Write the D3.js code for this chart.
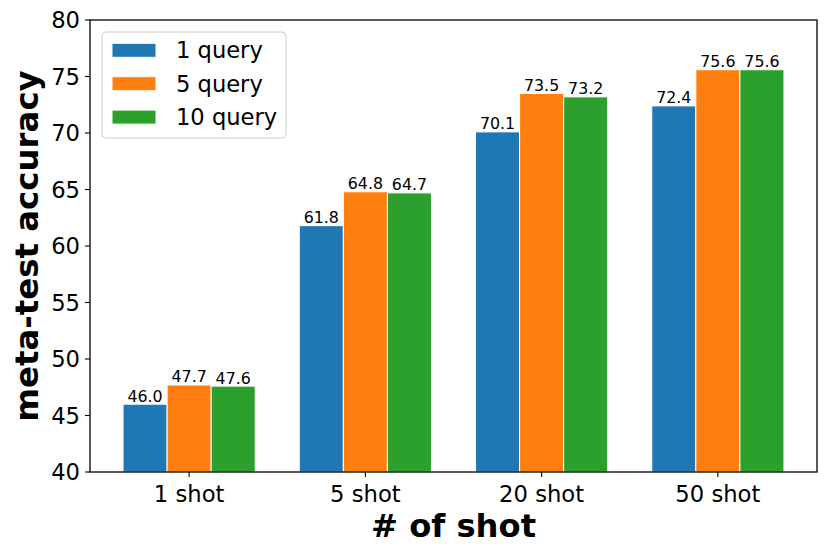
<!DOCTYPE html>
<html>
<head>
<meta charset="utf-8">
<script src="https://cdn.jsdelivr.net/npm/d3@7"></script>
<style>
  body { margin: 0; background: #fff; }
  svg { font-family: "DejaVu Sans", sans-serif; }
</style>
</head>
<body>
<div id="chart"></div>
<script>
const shots = ["1 shot", "5 shot", "20 shot", "50 shot"];
const seriesNames = ["1 query", "5 query", "10 query"];
const query1 = [46.0, 61.8, 70.1, 72.4];
const query5 = [47.7, 64.8, 73.5, 75.6];
const query10 = [47.6, 64.7, 73.2, 75.6];
const yTicks = [40, 45, 50, 55, 60, 65, 70, 75, 80];
const colors = ["#1f77b4", "#ff7f0e", "#2ca02c"];

const series = [query1, query5, query10];

const width = 830, height = 556;
const margin = {top: 20, right: 13, bottom: 84, left: 90};
const innerW = width - margin.left - margin.right;
const innerH = height - margin.top - margin.bottom;

const svg = d3.select("#chart").append("svg")
    .attr("width", width)
    .attr("height", height);

const g = svg.append("g")
    .attr("transform", `translate(${margin.left},${margin.top})`);

// matplotlib-like: groups at 0..3, bar width 0.25, margins 5%
const barW = 0.25;
const x = d3.scaleLinear().domain([-0.5625, 3.5625]).range([0, innerW]);
const y = d3.scaleLinear().domain([40, 80]).range([innerH, 0]);

series.forEach((vals, si) => {
    const off = (si - 1) * barW;
    g.selectAll(null)
        .data(vals)
        .join("rect")
        .attr("x", (d, i) => x(i + off - barW / 2))
        .attr("y", d => y(d))
        .attr("width", x(barW) - x(0))
        .attr("height", d => y(40) - y(d))
        .attr("fill", colors[si])
        .attr("stroke", "#fff")
        .attr("stroke-width", 1);

    g.selectAll(null)
        .data(vals)
        .join("text")
        .attr("x", (d, i) => x(i + off))
        .attr("y", d => y(d) - 2.5)
        .attr("text-anchor", "middle")
        .attr("font-size", 15.8)
        .attr("fill", "#000")
        .text(d => d.toFixed(1));
});

// frame
g.append("rect")
    .attr("width", innerW)
    .attr("height", innerH)
    .attr("fill", "none")
    .attr("stroke", "#000")
    .attr("stroke-width", 1.3);

// y axis
const yAxis = g.append("g");
yTicks.forEach(t => {
    yAxis.append("line")
        .attr("x1", -5).attr("x2", 0)
        .attr("y1", y(t)).attr("y2", y(t))
        .attr("stroke", "#000").attr("stroke-width", 1.1);
    yAxis.append("text")
        .attr("x", -10)
        .attr("y", y(t))
        .attr("dy", "0.36em")
        .attr("text-anchor", "end")
        .attr("font-size", 22.7)
        .text(t);
});

// x axis
const xAxis = g.append("g");
shots.forEach((s, i) => {
    xAxis.append("line")
        .attr("x1", x(i)).attr("x2", x(i))
        .attr("y1", innerH).attr("y2", innerH + 5)
        .attr("stroke", "#000").attr("stroke-width", 1.1);
    xAxis.append("text")
        .attr("x", x(i))
        .attr("y", 501.5 - margin.top)
        .attr("text-anchor", "middle")
        .attr("font-size", 22.7)
        .text(s);
});

// axis titles
svg.append("text")
    .attr("x", margin.left + innerW / 2)
    .attr("y", 536.5)
    .attr("text-anchor", "middle")
    .attr("font-size", 32.2)
    .attr("font-weight", "bold")
    .text("# of shot");

svg.append("text")
    .attr("transform", `translate(37.5,${margin.top + innerH / 2}) rotate(-90)`)
    .attr("text-anchor", "middle")
    .attr("font-size", 32.4)
    .attr("font-weight", "bold")
    .text("meta-test accuracy");

// legend
const legend = svg.append("g").attr("transform", "translate(102,32)");
legend.append("rect")
    .attr("width", 184)
    .attr("height", 106)
    .attr("rx", 4)
    .attr("fill", "#fff")
    .attr("fill-opacity", 0.8)
    .attr("stroke", "#ccc")
    .attr("stroke-width", 1);

seriesNames.forEach((name, i) => {
    const row = legend.append("g").attr("transform", `translate(10,${11.3 + i * 33.4})`);
    row.append("rect")
        .attr("width", 44)
        .attr("height", 14)
        .attr("fill", colors[i])
        .attr("stroke", "#fff")
        .attr("stroke-width", 1);
    row.append("text")
        .attr("x", 64)
        .attr("y", 7)
        .attr("dy", "0.36em")
        .attr("font-size", 22.6)
        .text(name);
});
</script>
</body>
</html>
